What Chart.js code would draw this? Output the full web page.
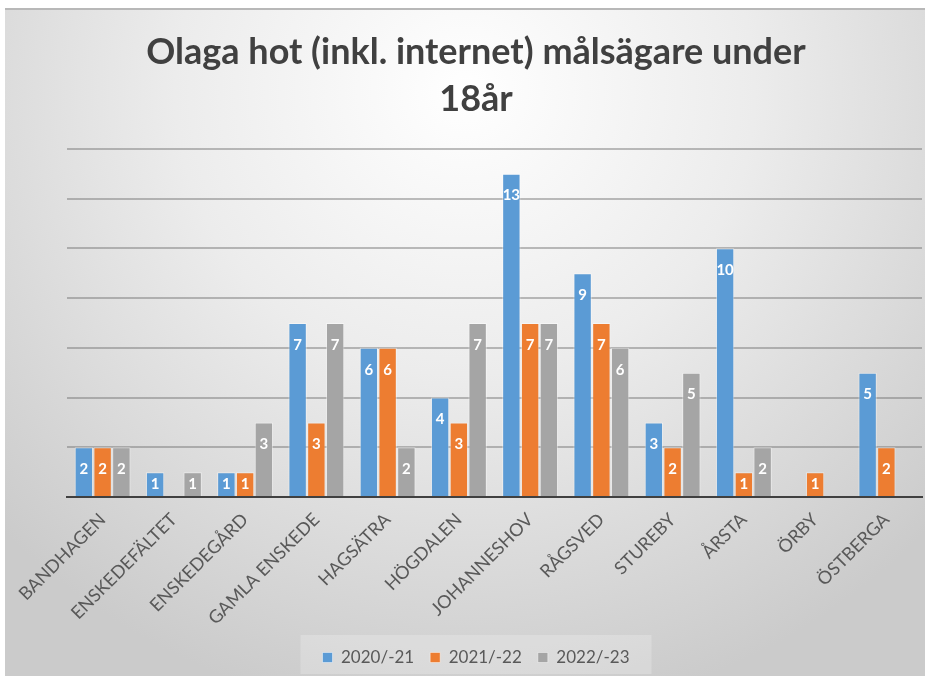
<!DOCTYPE html>
<html>
<head>
<meta charset="utf-8">
<script src="https://cdn.jsdelivr.net/npm/chart.js@4"></script>
<style>
  html, body { margin: 0; padding: 0; background: #fff; }
  #frame {
    position: absolute; left: 5px; top: 8px; width: 920px; height: 668px;
    border-top: 2px solid #b8b8b8; box-sizing: border-box;
    background: radial-gradient(ellipse 70% 95% at 50% 12%, #ffffff 0%, #ececec 45%, #cbcbcb 100%);
  }
  #wrap { position: absolute; left: 0; top: 0; width: 931px; height: 682px; }
</style>
</head>
<body>
<div id="frame"></div>
<div id="wrap"><canvas id="chart" width="931" height="682"></canvas></div>
<script>
// kategorier (stadsdelar)
const omraden = ['BANDHAGEN', 'ENSKEDEFÄLTET', 'ENSKEDEGÅRD', 'GAMLA ENSKEDE', 'HAGSÄTRA', 'HÖGDALEN',
                 'JOHANNESHOV', 'RÅGSVED', 'STUREBY', 'ÅRSTA', 'ÖRBY', 'ÖSTBERGA'];

// antal per år
const ar2020 = [2, 1, 1, 7, 6, 4, 13, 9, 3, 10, null, 5];
const ar2021 = [2, null, 1, 3, 6, 3, 7, 7, 2, 1, 1, 2];
const ar2022 = [2, 1, 3, 7, 2, 7, 7, 6, 5, 2, null, null];

const serier = ['2020/-21', '2021/-22', '2022/-23'];
const farger = ['#5b9bd5', '#ed7d31', '#a5a5a5'];

// skriver värdet i toppen av varje stapel
const vardeEtiketter = {
    id: 'vardeEtiketter',
    afterDatasetsDraw(chart) {
        const ctx = chart.ctx;
        ctx.save();
        ctx.fillStyle = '#ffffff';
        ctx.font = 'bold 15px Lato';
        ctx.textAlign = 'center';
        ctx.textBaseline = 'middle';
        chart.data.datasets.forEach((ds, i) => {
            chart.getDatasetMeta(i).data.forEach((bar, j) => {
                const v = ds.data[j];
                if (v == null) return;
                const h = bar.base - bar.y;
                ctx.fillText(v, bar.x, bar.y + Math.min(22, h / 2));
            });
        });
        ctx.restore();
    }
};

// ljus ruta bakom förklaringen
const legendRuta = {
    id: 'legendRuta',
    beforeDraw(chart) {
        const l = chart.legend;
        const boxes = l.legendHitBoxes;
        if (!boxes || !boxes.length) return;
        const x0 = Math.min(...boxes.map(b => b.left)) - 22;
        const x1 = Math.max(...boxes.map(b => b.left + b.width)) + 22;
        const ctx = chart.ctx;
        ctx.save();
        ctx.fillStyle = 'rgba(255,255,255,0.22)';
        ctx.fillRect(x0, l.top + 2, x1 - x0, l.height - 4);
        ctx.restore();
    }
};

new Chart(document.getElementById('chart'), {
    type: 'bar',
    data: {
        labels: omraden,
        datasets: [ar2020, ar2021, ar2022].map((d, i) => ({
            label: serier[i],
            data: d,
            backgroundColor: farger[i],
            borderColor: 'rgba(255,255,255,0.45)',
            borderWidth: 1,
            categoryPercentage: 0.79,
            barPercentage: 0.98
        }))
    },
    options: {
        responsive: false,
        animation: false,
        layout: { padding: { left: 30, right: 9, top: 28, bottom: 6 } },
        plugins: {
            title: {
                display: true,
                text: ['Olaga hot (inkl. internet) målsägare under', '18år'],
                color: '#404040',
                font: { family: 'Lato', size: 36, weight: 'bold', lineHeight: 1.33 },
                padding: { top: 0, bottom: 25 }
            },
            legend: {
                position: 'bottom',
                labels: {
                    color: '#595959',
                    font: { family: 'Lato', size: 17 },
                    boxWidth: 10,
                    boxHeight: 10,
                    padding: 16
                }
            },
            tooltip: { enabled: false }
        },
        scales: {
            x: {
                grid: { display: false },
                border: { color: '#404040', width: 2 },
                ticks: {
                    color: '#595959',
                    font: { family: 'Lato', size: 18 },
                    maxRotation: 45,
                    minRotation: 45,
                    padding: 4
                },
                afterFit(axis) { axis.height = 136; }
            },
            y: {
                min: 0,
                max: 14,
                ticks: { stepSize: 2, display: false },
                border: { display: false },
                grid: { color: 'rgba(110,110,110,0.45)', lineWidth: 2, drawTicks: false },
                afterFit(axis) { axis.width = 37; }
            }
        }
    },
    plugins: [vardeEtiketter, legendRuta]
});
</script>
</body>
</html>
